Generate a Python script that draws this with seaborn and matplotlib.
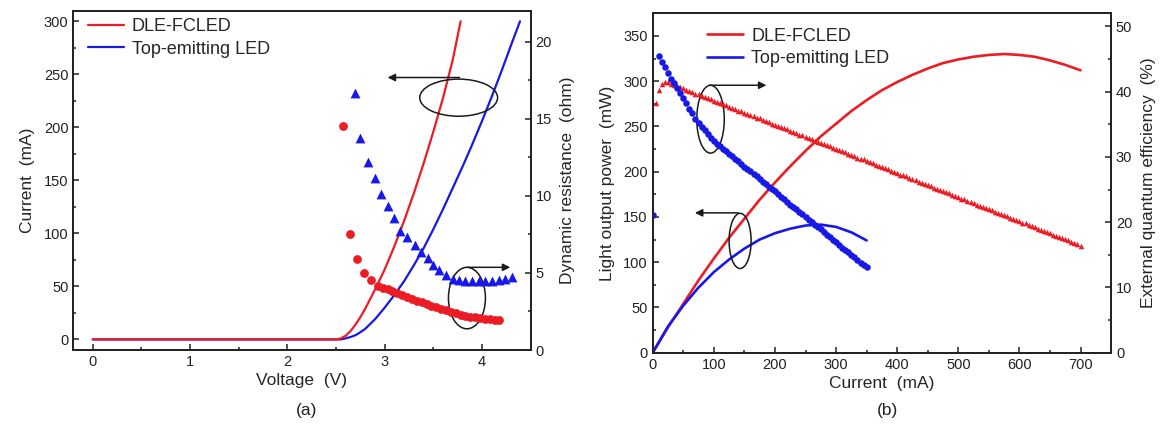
import numpy as np
import matplotlib.pyplot as plt
import matplotlib.patches as mpatches
from matplotlib.ticker import MultipleLocator
import seaborn as sns

# ─────────────────────────────────────────────────────────────
#  Data
# ─────────────────────────────────────────────────────────────

# (a) I-V curves (left axis)
iv_red_v  = [0, 2.50, 2.55, 2.60, 2.65, 2.70, 2.75, 2.80, 2.85, 2.90, 3.00, 3.10, 3.20, 3.30,
             3.40, 3.50, 3.60, 3.70, 3.78]
iv_red_i  = [0, 0, 1, 3.5, 8, 14, 21, 29, 38, 47, 66, 88, 112, 138, 166, 196, 228, 264, 300]
iv_blue_v = [0, 2.55, 2.60, 2.65, 2.70, 2.75, 2.80, 2.90, 3.00, 3.10, 3.20, 3.30, 3.40, 3.50,
             3.60, 3.70, 3.80, 3.90, 4.00, 4.10, 4.20, 4.30, 4.39]
iv_blue_i = [0, 0, 1, 2.3, 4, 6.8, 10, 19, 30, 42, 55, 70, 86, 104, 123, 143, 163, 184, 206,
             229, 253, 278, 300]

# (a) dynamic resistance (right axis)
rd_red_v  = [2.57, 2.64, 2.72, 2.79, 2.86, 2.93, 2.98, 3.03, 3.08, 3.13, 3.18, 3.23, 3.28, 3.33,
             3.38, 3.43, 3.48, 3.53, 3.58, 3.63, 3.68, 3.73, 3.78, 3.83, 3.88, 3.93, 3.98, 4.03,
             4.08, 4.13, 4.17]
rd_red_r  = [14.55, 7.52, 5.88, 5.02, 4.54, 4.15, 4.05, 3.94, 3.84, 3.70, 3.58, 3.45, 3.33, 3.21,
             3.10, 2.98, 2.88, 2.78, 2.68, 2.58, 2.48, 2.38, 2.30, 2.22, 2.16, 2.12, 2.08, 2.03,
             1.99, 1.96, 1.95]
rd_blue_v = [2.69, 2.75, 2.83, 2.90, 2.965, 3.03, 3.10, 3.16, 3.23, 3.31, 3.37, 3.44, 3.50, 3.56,
             3.63, 3.70, 3.76, 3.83, 3.90, 3.97, 4.03, 4.10, 4.17, 4.24, 4.31]
rd_blue_r = [16.65, 13.77, 12.21, 11.13, 10.10, 9.34, 8.54, 7.74, 7.35, 6.81, 6.38, 5.95, 5.51, 5.19,
             4.86, 4.62, 4.55, 4.50, 4.48, 4.48, 4.48, 4.50, 4.52, 4.58, 4.71]

# (b) light output power (left axis)
lop_red_i  = [0, 25, 50, 75, 100, 125, 150, 175, 200, 225, 250, 275, 300, 325, 350, 375, 400,
              425, 450, 475, 500, 525, 550, 575, 600, 625, 650, 675, 700]
lop_red_p  = [0, 28, 54, 80, 104, 127, 148, 169, 188, 206, 223, 239, 253, 267, 279, 290, 299,
              307, 314, 320, 324, 327, 329, 330, 329, 327, 323, 318, 312]
lop_blue_i = [0, 25, 50, 75, 100, 125, 150, 175, 200, 225, 250, 275, 300, 325, 350]
lop_blue_p = [0, 29, 52, 72, 89, 103, 115, 125, 132, 137, 140.5, 141.5, 139, 133, 124]

# (b) external quantum efficiency (right axis)
eqe_red_i = list(range(5, 705, 5))
eqe_red = [38.2, 40.2, 41.1, 41.5, 41.4,
           41.2, 41.0, 40.8, 40.7, 40.5, 40.3, 40.1, 39.9, 39.7, 39.6, 39.4, 39.2, 39.0, 38.8, 38.6,
           38.4, 38.3, 38.1, 37.9, 37.7,
           37.5, 37.3, 37.1, 37.0, 36.8, 36.6, 36.4, 36.2, 36.0, 35.9, 35.7, 35.5, 35.3, 35.1, 34.9,
           34.7, 34.6, 34.4, 34.2, 34.0,
           33.8, 33.6, 33.4, 33.3, 33.1, 32.9, 32.7, 32.5, 32.3, 32.2, 32.0, 31.8, 31.6, 31.4, 31.2,
           31.0, 30.9, 30.7, 30.5, 30.3,
           30.1, 29.9, 29.7, 29.6, 29.4, 29.2, 29.0, 28.8, 28.6, 28.5, 28.3, 28.1, 27.9, 27.7, 27.5,
           27.3, 27.2, 27.0, 26.8, 26.6,
           26.4, 26.2, 26.0, 25.9, 25.7, 25.5, 25.3, 25.1, 24.9, 24.8, 24.6, 24.4, 24.2, 24.0, 23.8,
           23.6, 23.5, 23.3, 23.1, 22.9,
           22.7, 22.5, 22.3, 22.2, 22.0, 21.8, 21.6, 21.4, 21.2, 21.1, 20.9, 20.7, 20.5, 20.3, 20.1,
           19.9, 19.8, 19.6, 19.4, 19.2,
           19.0, 18.8, 18.6, 18.5, 18.3, 18.1, 17.9, 17.7, 17.5, 17.4, 17.2, 17.0, 16.8, 16.6, 16.4]
eqe_blue_i = [0] + list(range(10, 355, 5))
eqe_blue = [21.1,
            45.4, 44.6, 43.8, 42.9, 42.0, 41.3, 40.6, 39.8, 39.0, 38.2, 37.4, 36.7, 35.8, 35.2, 34.6,
            34.1, 33.5, 32.9,
            32.4, 32.0, 31.6, 31.2, 30.9, 30.5, 30.1, 29.7, 29.3, 28.9, 28.5, 28.2, 27.8, 27.4, 27.0,
            26.6, 26.2, 25.8, 25.4, 25.1, 24.7, 24.3, 23.9, 23.5, 23.1, 22.7, 22.3, 22.0, 21.6, 21.2,
            20.8, 20.4, 20.0, 19.6, 19.2, 18.9, 18.5, 18.1, 17.7, 17.3, 16.9, 16.5, 16.1, 15.8, 15.4,
            15.0, 14.6, 14.2, 13.8, 13.4, 13.1]

RED  = "#ec1c24"
BLUE = "#1818e8"
INK  = "#222222"

# ─────────────────────────────────────────────────────────────
#  Style
# ─────────────────────────────────────────────────────────────
sns.set_theme(style="ticks")
plt.rcParams["font.family"] = ["Liberation Sans", "DejaVu Sans"]
plt.rcParams["axes.edgecolor"] = INK
plt.rcParams["axes.linewidth"] = 1.3


def style_axis(ax, right=False):
    ax.tick_params(which="both", direction="in", colors=INK, labelsize=10.5, width=1.1)
    ax.tick_params(which="major", length=4.5)
    ax.tick_params(which="minor", length=2.5)
    for sp in ax.spines.values():
        sp.set_color(INK)
        sp.set_linewidth(1.3)
    if right:
        ax.tick_params(axis="y", left=False, right=True)


def ellipse(ax, cx, cy, w, h):
    ax.add_patch(mpatches.Ellipse((cx, cy), w, h, fill=False, ec="k", lw=1.1, zorder=5))


def arrow(ax, x0, x1, y):
    ax.annotate("", xy=(x1, y), xytext=(x0, y),
                arrowprops=dict(arrowstyle="-|>", color="k", lw=1.1, mutation_scale=11,
                                shrinkA=0, shrinkB=0), zorder=5)


fig = plt.figure(figsize=(11.61, 4.29), dpi=100)

# ─────────────────────────────────────────────────────────────
#  (a) I-V and dynamic resistance
# ─────────────────────────────────────────────────────────────
ax1 = fig.add_axes([0.0631, 0.1841, 0.3940, 0.7909])
axr1 = ax1.twinx()

sns.lineplot(x=iv_red_v, y=iv_red_i, ax=ax1, color=RED, lw=1.6, label="DLE-FCLED")
sns.lineplot(x=iv_blue_v, y=iv_blue_i, ax=ax1, color=BLUE, lw=1.6, label="Top-emitting LED")
ax1.lines[0].set_zorder(3)
sns.scatterplot(x=rd_red_v, y=rd_red_r, ax=axr1, color=RED, marker="o", s=40, linewidth=0)
sns.scatterplot(x=rd_blue_v, y=rd_blue_r, ax=axr1, color=BLUE, marker="^", s=50, linewidth=0)

ax1.set_xlim(-0.2, 4.5)
ax1.set_ylim(-10, 310)
axr1.set_ylim(0, 22)
ax1.xaxis.set_major_locator(MultipleLocator(1))
ax1.xaxis.set_minor_locator(MultipleLocator(0.5))
ax1.yaxis.set_major_locator(MultipleLocator(50))
ax1.yaxis.set_minor_locator(MultipleLocator(25))
axr1.yaxis.set_major_locator(MultipleLocator(5))
axr1.yaxis.set_minor_locator(MultipleLocator(2.5))
style_axis(ax1)
style_axis(axr1, right=True)

ax1.set_xlabel("Voltage  (V)", fontsize=12.5, labelpad=3)
ax1.set_ylabel("Current  (mA)", fontsize=12.5, labelpad=6)
axr1.set_ylabel("Dynamic resistance  (ohm)", fontsize=12.5, labelpad=6)

ax1.legend(loc="upper left", bbox_to_anchor=(0.008, 1.01), frameon=False, fontsize=13,
           handlelength=2.0, handletextpad=0.45, labelspacing=0.3, borderaxespad=0.2)

ellipse(ax1, 3.76, 228, 0.80, 35)
arrow(ax1, 3.77, 3.03, 247)
ellipse(ax1, 3.845, 39, 0.38, 58)
arrow(ax1, 3.85, 4.29, 68)

# ─────────────────────────────────────────────────────────────
#  (b) light output power and EQE
# ─────────────────────────────────────────────────────────────
ax2 = fig.add_axes([0.5622, 0.1779, 0.3948, 0.7911])
axr2 = ax2.twinx()

sns.lineplot(x=lop_red_i, y=lop_red_p, ax=ax2, color=RED, lw=1.9, label="DLE-FCLED")
sns.lineplot(x=lop_blue_i, y=lop_blue_p, ax=ax2, color=BLUE, lw=1.9, label="Top-emitting LED")
sns.scatterplot(x=eqe_red_i, y=eqe_red, ax=axr2, color=RED, marker="^", s=16, linewidth=0)
sns.scatterplot(x=eqe_blue_i, y=eqe_blue, ax=axr2, color=BLUE, marker="o", s=22, linewidth=0)

ax2.set_xlim(0, 750)
ax2.set_ylim(0, 375)
axr2.set_ylim(0, 52)
ax2.xaxis.set_major_locator(MultipleLocator(100))
ax2.xaxis.set_minor_locator(MultipleLocator(50))
ax2.yaxis.set_major_locator(MultipleLocator(50))
ax2.yaxis.set_minor_locator(MultipleLocator(25))
axr2.yaxis.set_major_locator(MultipleLocator(10))
axr2.yaxis.set_minor_locator(MultipleLocator(5))
style_axis(ax2)
style_axis(axr2, right=True)

ax2.set_xlabel("Current  (mA)", fontsize=12.5, labelpad=3)
ax2.set_ylabel("Light output power  (mW)", fontsize=12.5, labelpad=6)
axr2.set_ylabel("External quantum efficiency  (%)", fontsize=12.5, labelpad=6)

ax2.legend(loc="upper left", bbox_to_anchor=(0.095, 0.99), frameon=False, fontsize=13,
           handlelength=2.0, handletextpad=0.45, labelspacing=0.3, borderaxespad=0.2)

ellipse(ax2, 94.6, 258, 45, 75)
arrow(ax2, 93, 186, 295.5)
ellipse(ax2, 143, 123.5, 36, 61)
arrow(ax2, 140, 69, 154.5)

fig.text(307 / 1161, 1 - 410 / 429, "(a)", ha="center", va="center", fontsize=12.5, color=INK)
fig.text(888 / 1161, 1 - 410 / 429, "(b)", ha="center", va="center", fontsize=12.5, color=INK)

fig.savefig("out.png", dpi=100)
plt.close(fig)
